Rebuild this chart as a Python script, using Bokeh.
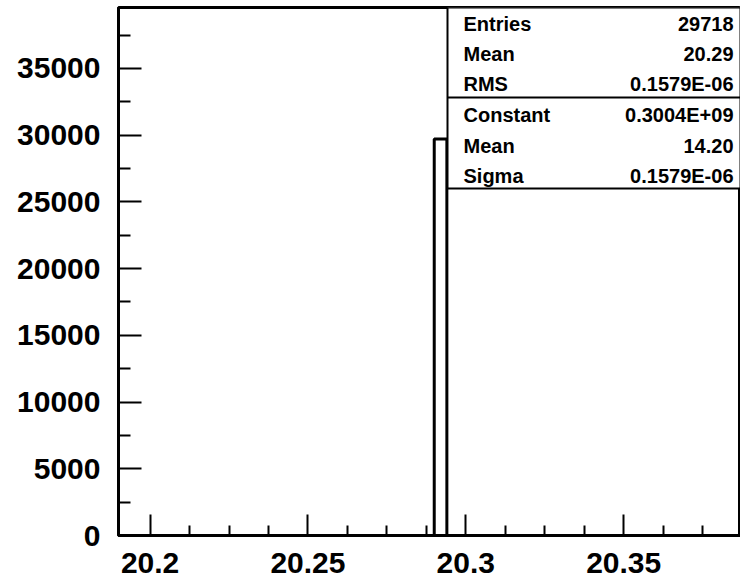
from bokeh.plotting import figure
from bokeh.models import Range1d, FixedTicker, BoxAnnotation, Label
from bokeh.embed import file_html
from bokeh.resources import INLINE

# histogram data (one filled bin)
bin_left = [20.290]
bin_right = [20.294]
counts = [29718]

x_range_lim = [20.19, 20.387]
y_range_lim = [0, 39570]

x_major = [20.2, 20.25, 20.3, 20.35]
x_labels = ["20.2", "20.25", "20.3", "20.35"]
x_minor = [20.2125, 20.225, 20.2375, 20.2625, 20.275, 20.2875,
           20.3125, 20.325, 20.3375, 20.3625, 20.375]
y_major = [0, 5000, 10000, 15000, 20000, 25000, 30000, 35000]
y_labels = ["0", "5000", "10000", "15000", "20000", "25000", "30000", "35000"]
y_minor = [2500, 7500, 12500, 17500, 22500, 27500, 32500, 37500]

stat_names = ["Entries", "Mean", "RMS", "Constant", "Mean", "Sigma"]
stat_values = ["29718", "20.29", "0.1579E-06", "0.3004E+09", "14.20", "0.1579E-06"]

FONT = "Liberation Sans"

p = figure(width=740, height=579, output_backend="svg", toolbar_location=None,
           x_range=Range1d(*x_range_lim), y_range=Range1d(*y_range_lim),
           min_border_left=118, min_border_right=0, min_border_top=7,
           min_border_bottom=44)
p.background_fill_color = "white"
p.border_fill_color = "white"
p.outline_line_color = "black"
p.outline_line_width = 3
p.grid.visible = False

p.quad(left=bin_left, right=bin_right, bottom=[0] * len(counts), top=counts,
       fill_color=None, line_color="black", line_width=3)

for ax, major, minor, labels in ((p.xaxis[0], x_major, x_minor, x_labels),
                                 (p.yaxis[0], y_major, y_minor, y_labels)):
    ax.ticker = FixedTicker(ticks=major, minor_ticks=minor)
    ax.major_label_overrides = {t: l for t, l in zip(major, labels)}
    ax.axis_line_width = 3
    ax.axis_line_color = "black"
    ax.major_tick_line_width = 2
    ax.minor_tick_line_width = 2
    ax.major_tick_out = 0
    ax.minor_tick_out = 0
    ax.major_label_text_font = FONT
    ax.major_label_text_font_style = "bold"
    ax.major_label_text_font_size = "30px"
    ax.major_label_text_color = "black"

p.xaxis.major_tick_in = 21
p.xaxis.minor_tick_in = 10
p.xaxis.major_label_standoff = 17
p.yaxis.major_tick_in = 23
p.yaxis.minor_tick_in = 12
p.yaxis.major_label_standoff = 18

# statistics box (screen units relative to frame, y up)
box = BoxAnnotation(left=329, right=622, top=528, bottom=347,
                    left_units="screen", right_units="screen",
                    top_units="screen", bottom_units="screen",
                    fill_color="white", fill_alpha=1.0,
                    line_color="black", line_alpha=1.0, line_width=2)
p.add_layout(box)
sep = BoxAnnotation(left=329, right=622, top=438, bottom=438,
                    left_units="screen", right_units="screen",
                    top_units="screen", bottom_units="screen",
                    fill_alpha=0, line_color="black", line_alpha=1.0, line_width=2)
p.add_layout(sep)

row_y = [512, 482, 452, 421, 390, 360]
for name, val, yy in zip(stat_names, stat_values, row_y):
    p.add_layout(Label(x=345, y=yy, x_units="screen", y_units="screen", text=name,
                       text_font=FONT, text_font_style="bold", text_font_size="20px",
                       text_align="left", text_baseline="middle", text_color="black"))
    p.add_layout(Label(x=615, y=yy, x_units="screen", y_units="screen", text=val,
                       text_font=FONT, text_font_style="bold", text_font_size="20px",
                       text_align="right", text_baseline="middle", text_color="black"))

open("out.html", "w").write(file_html(p, INLINE))
